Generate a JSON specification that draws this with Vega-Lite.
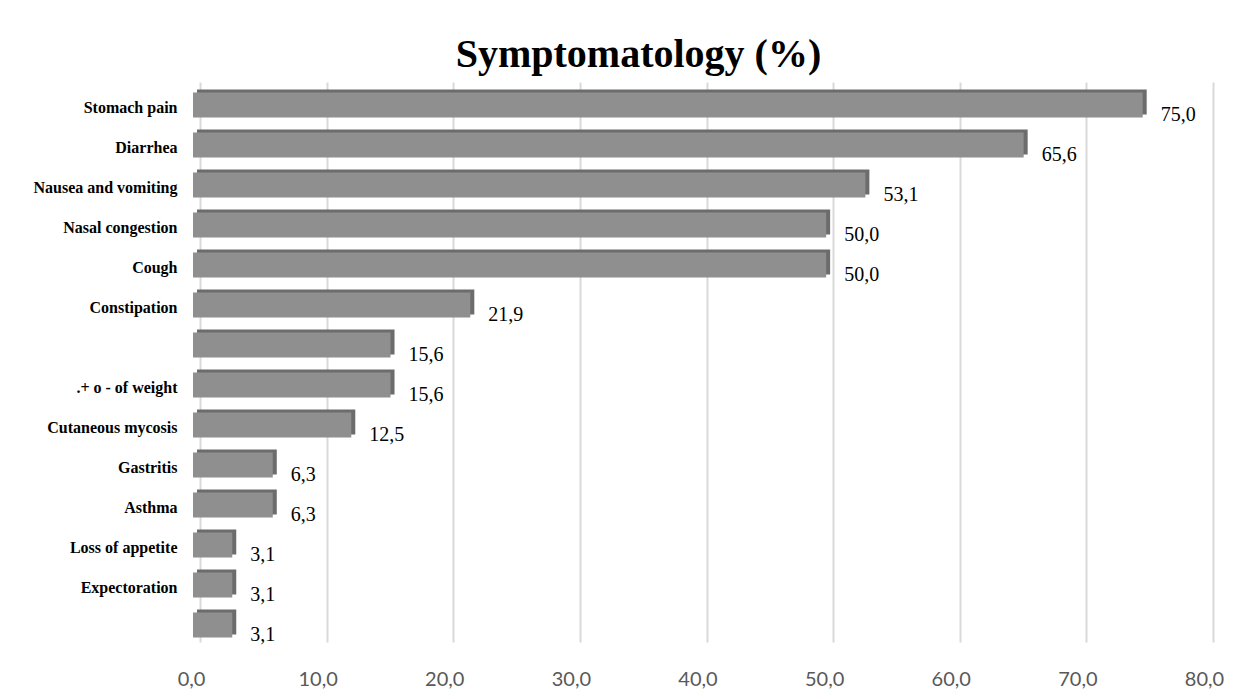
{
  "$schema": "https://vega.github.io/schema/vega-lite/v6.json",
  "autosize": {"type": "none"},
  "padding": {"left": 200, "top": 82, "right": 37, "bottom": 57},
  "width": 1013,
  "height": 560,
  "background": "white",
  "config": {
    "view": {"stroke": null},
    "locale": {"number": {"decimal": ",", "thousands": ".", "grouping": [3], "currency": ["", ""]}}
  },
  "title": {
    "text": "Symptomatology (%)",
    "font": "Liberation Serif",
    "fontSize": 40,
    "fontWeight": "bold",
    "color": "#000000",
    "anchor": "middle",
    "baseline": "alphabetic",
    "offset": 12,
    "dx": -68,
    "dy": 37
  },
  "data": {
    "values": [
      {"key": "Stomach pain", "value": 75.0},
      {"key": "Diarrhea", "value": 65.6},
      {"key": "Nausea and vomiting", "value": 53.1},
      {"key": "Nasal congestion", "value": 50.0},
      {"key": "Cough", "value": 50.0},
      {"key": "Constipation", "value": 21.9},
      {"key": "blank1", "value": 15.6},
      {"key": ".+ o - of weight", "value": 15.6},
      {"key": "Cutaneous mycosis", "value": 12.5},
      {"key": "Gastritis", "value": 6.3},
      {"key": "Asthma", "value": 6.3},
      {"key": "Loss of appetite", "value": 3.1},
      {"key": "Expectoration", "value": 3.1},
      {"key": "blank2", "value": 3.1}
    ]
  },
  "encoding": {
    "y": {
      "field": "key",
      "type": "nominal",
      "sort": null,
      "scale": {"paddingInner": 0.375, "paddingOuter": 0.1875},
      "axis": {
        "title": null,
        "domain": false,
        "ticks": false,
        "grid": false,
        "labelFont": "Liberation Serif",
        "labelFontWeight": "bold",
        "labelFontSize": 16,
        "labelColor": "#000000",
        "labelPadding": 23,
        "labelOffset": 6,
        "labelExpr": "indexof(datum.value, 'blank') === 0 ? '' : datum.value"
      }
    },
    "x": {
      "field": "value",
      "type": "quantitative",
      "scale": {"domain": [0, 80], "nice": false},
      "axis": {
        "title": null,
        "values": [0, 10, 20, 30, 40, 50, 60, 70, 80],
        "format": ".1f",
        "domain": false,
        "ticks": false,
        "grid": true,
        "gridColor": "#d9d9d9",
        "gridWidth": 2,
        "labelFont": "Lato",
        "labelFontSize": 20,
        "labelColor": "#595959",
        "labelPadding": 27,
        "labelOffset": -9,
        "labelFlush": false
      }
    }
  },
  "layer": [
    {"mark": {"type": "bar", "color": "#6c6c6c", "xOffset": -3}},
    {"mark": {"type": "bar", "color": "#8f8f8f", "xOffset": -7, "yOffset": 3}},
    {
      "mark": {
        "type": "text",
        "font": "Liberation Serif",
        "fontSize": 20,
        "color": "#000000",
        "align": "left",
        "baseline": "middle",
        "dx": 11,
        "dy": 13
      },
      "encoding": {"text": {"field": "value", "type": "quantitative", "format": ".1f"}}
    }
  ]
}
